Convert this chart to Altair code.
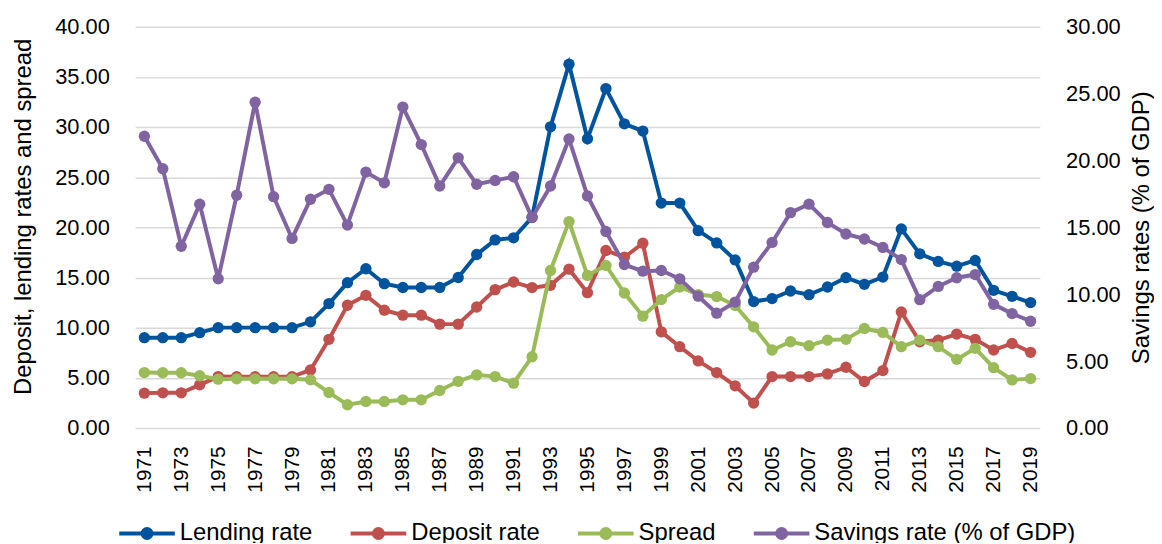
import altair as alt
import pandas as pd

years = [str(y) for y in range(1971, 2020)]

lending = [9.0, 9.0, 9.0, 9.5, 10.0, 10.0, 10.0, 10.0, 10.0, 10.58,
           12.4, 14.48, 15.87, 14.38, 14.0, 14.0, 14.0, 15.0, 17.29, 18.75,
           18.95, 21.0, 30.02, 36.27, 28.83, 33.83, 30.32, 29.6, 22.42, 22.42,
           19.67, 18.45, 16.75, 12.6, 12.9, 13.65, 13.29, 14.05, 14.98, 14.32,
           15.04, 19.84, 17.36, 16.6, 16.13, 16.7, 13.72, 13.12, 12.5]

deposit = [3.47, 3.5, 3.5, 4.3, 5.12, 5.1, 5.1, 5.1, 5.1, 5.78,
           8.83, 12.23, 13.22, 11.74, 11.24, 11.24, 10.35, 10.35, 12.06, 13.79,
           14.55, 13.99, 14.22, 15.83, 13.49, 17.69, 17.02, 18.41, 9.58, 8.1,
           6.68, 5.52, 4.2, 2.48, 5.12, 5.12, 5.12, 5.39, 6.05, 4.63,
           5.72, 11.57, 8.59, 8.76, 9.36, 8.83, 7.77, 8.43, 7.54]

spread = [5.52, 5.5, 5.5, 5.2, 4.86, 4.9, 4.9, 4.9, 4.9, 4.8,
          3.53, 2.31, 2.64, 2.64, 2.8, 2.8, 3.73, 4.65, 5.29, 5.12,
          4.46, 7.1, 15.7, 20.57, 15.21, 16.2, 13.45, 11.14, 12.8, 14.05,
          13.3, 13.1, 12.2, 10.08, 7.77, 8.59, 8.2, 8.76, 8.83, 9.92,
          9.52, 8.1, 8.76, 8.1, 6.84, 7.94, 6.01, 4.79, 4.92]

savings = [21.81, 19.38, 13.58, 16.73, 11.15, 17.4, 24.36, 17.29, 14.17, 17.1,
           17.84, 15.17, 19.13, 18.33, 23.99, 21.19, 18.09, 20.2, 18.22, 18.51,
           18.78, 15.73, 18.09, 21.61, 17.35, 14.69, 12.22, 11.72, 11.77, 11.15,
           9.85, 8.58, 9.41, 12.02, 13.87, 16.1, 16.73, 15.36, 14.5, 14.13,
           13.5, 12.59, 9.59, 10.58, 11.23, 11.47, 9.24, 8.55, 7.98]

series_names = ["Lending rate", "Deposit rate", "Spread", "Savings rate (% of GDP)"]
series_colors = ["#00549E", "#C0504D", "#9BBB59", "#8064A2"]
left_ticks = [0, 5, 10, 15, 20, 25, 30, 35, 40]
right_ticks = [0, 5, 10, 15, 20, 25, 30]
year_labels = years[::2]

FONT = "Liberation Sans"

rows = []
for name, vals in zip(series_names, [lending, deposit, spread, savings]):
    for y, v in zip(years, vals):
        rows.append({"year": y, "series": name, "value": v})
df = pd.DataFrame(rows)

color_scale = alt.Scale(domain=series_names, range=series_colors)
legend = alt.Legend(
    title=None, orient="none", direction="horizontal",
    legendX=-23, legendY=498, padding=0,
    symbolType="M-5.6,0L5.6,0M-0.9,0A0.9,0.9 0 1,0 0.9,0A0.9,0.9 0 1,0 -0.9,0M-0.25,0A0.25,0.25 0 1,0 0.25,0A0.25,0.25 0 1,0 -0.25,0",
    symbolSize=100, symbolStrokeWidth=4, symbolOffset=23,
    labelOffset=21, columnPadding=30,
    labelFont=FONT, labelFontSize=24, labelColor="#000000", labelLimit=400,
)

x_enc = alt.X("year:O", title=None, sort=years,
              scale=alt.Scale(padding=0.5),
              axis=alt.Axis(values=year_labels, labelAngle=270, labelFont=FONT,
                            labelFontSize=21, labelColor="#000000", labelPadding=18,
                            ticks=False, domain=False, grid=False))

left_axis = alt.Axis(title="Deposit, lending rates and spread", values=left_ticks,
                     format=".2f", labelFont=FONT, labelFontSize=22, labelColor="#000000",
                     labelPadding=26, ticks=False, domain=False,
                     grid=True, gridColor="#D9D9D9", gridWidth=1.5,
                     titleFont=FONT, titleFontSize=24, titleFontWeight="normal",
                     titleColor="#000000", titlePadding=19, titleY=191)
right_axis = alt.Axis(title="Savings rates (% of GDP)", orient="right", values=right_ticks,
                      format=".2f", labelFont=FONT, labelFontSize=22, labelColor="#000000",
                      labelPadding=26, ticks=False, domain=False, grid=False,
                      titleFont=FONT, titleFontSize=24, titleFontWeight="normal",
                      titleColor="#000000", titlePadding=33, titleAngle=270)

left_scale = alt.Scale(domain=[0, 40], nice=False, zero=True)
right_scale = alt.Scale(domain=[0, 30], nice=False, zero=True)


def series_layer(name, yscale, yaxis):
    return alt.Chart(df).transform_filter(alt.datum.series == name).mark_line(
        strokeWidth=4,
        point=alt.OverlayMarkDef(size=130, filled=True, opacity=1),
    ).encode(
        x=x_enc,
        y=alt.Y("value:Q", scale=yscale, axis=yaxis),
        color=alt.Color("series:N", scale=color_scale, legend=legend),
    )


left = alt.layer(*[series_layer(n, left_scale, left_axis) for n in series_names[:3]])
right = series_layer(series_names[3], right_scale, right_axis)

chart = alt.layer(left, right).resolve_scale(y="independent").properties(
    width=911, height=404,
    padding={"left": 128, "top": 17, "right": 115, "bottom": 114},
    autosize=alt.AutoSizeParams(type="none"),
).configure_view(stroke=None)

chart.save("out.html", embed_options={"renderer": "svg", "actions": False})
